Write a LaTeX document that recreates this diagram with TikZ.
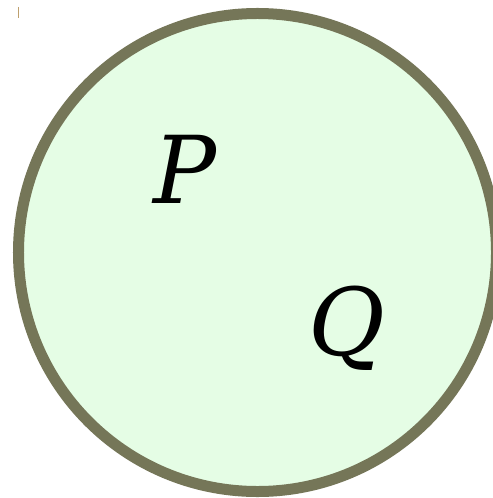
\documentclass[tikz,border=0pt]{standalone}
\usepackage{fontspec}
\setmainfont{DejaVu Serif}
\usetikzlibrary{positioning}
\definecolor{setfill}{RGB}{229,253,229}
\definecolor{setdraw}{RGB}{117,118,88}
\definecolor{tickcol}{RGB}{190,160,110}

\begin{document}
\begin{tikzpicture}[x=1bp, y=-1bp,
  setcirc/.style={circle, draw=setdraw, fill=setfill, line width=11bp, minimum size=478bp, inner sep=0pt},
  pt/.style={font=\fontsize{94}{94}\selectfont\itshape, inner sep=0pt, anchor=base}]
\useasboundingbox (0,0) rectangle (493,498);
\node[setcirc] (circ) at (257.5,252.5) {};
\node[pt] (lblP) at (185,203) {P};
\node[pt] (lblQ) at (347,355) {Q};
\coordinate (tka) at (18.5,7);
\coordinate (tkb) at (18.5,18);
\draw[tickcol, line width=1.2bp] (tka) -- (tkb);
\end{tikzpicture}
\end{document}
